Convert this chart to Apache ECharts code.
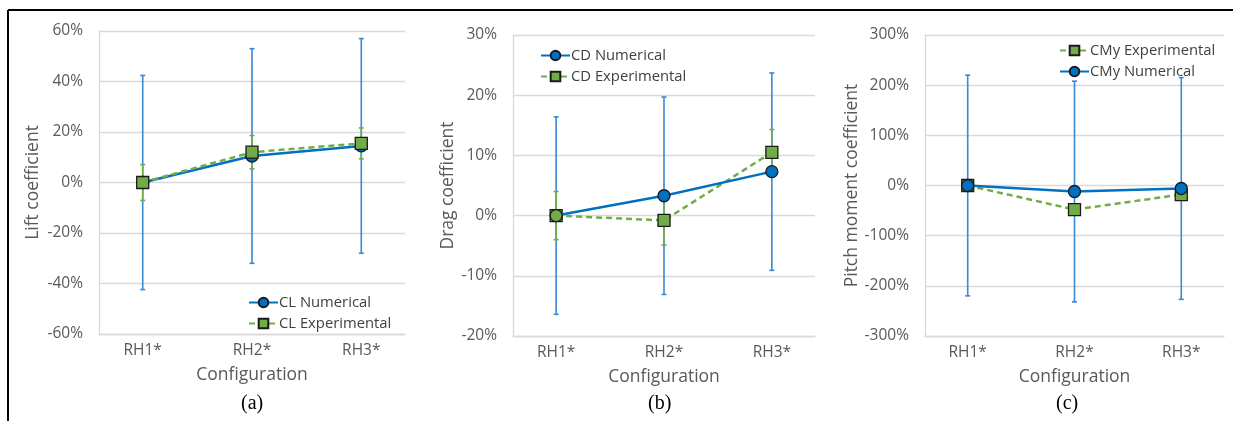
<!DOCTYPE html>
<html>
<head>
<meta charset="utf-8">
<script src="https://cdn.jsdelivr.net/npm/echarts@6/dist/echarts.min.js"></script>
<style>
html,body{margin:0;padding:0;background:#fff;}
#c{width:1233px;height:421px;}
</style>
</head>
<body>
<div id="c"></div>
<script>
// ---- data (values in percent) ----
const categories = ['RH1*', 'RH2*', 'RH3*'];

const clNumerical = [0, 10.5, 14.5];
const clNumericalErr = [42.4, 42.5, 42.5];
const clExperimental = [0, 12.0, 15.5];
const clExperimentalErr = [7.1, 6.6, 6.1];

const cdNumerical = [0, 3.3, 7.3];
const cdNumericalErr = [16.4, 16.4, 16.4];
const cdExperimental = [0, -0.8, 10.5];
const cdExperimentalErr = [4.0, 4.1, 3.8];

const cmyNumerical = [0, -12, -6];
const cmyNumericalErr = [220, 220, 221];
const cmyExperimental = [0, -48, -18];

const yRangeA = [-60, 60, 20];
const yRangeB = [-20, 30, 10];
const yRangeC = [-300, 300, 100];

// ---- styles ----
const BLUE = '#0070C0', BLUE_ERR = '#3B88D4', GREEN = '#70AD47';
const GRID_C = '#D9D9D9', TXT = '#595959';
const FONT = 'Open Sans';

function errSeries(idx, vals, errs, color, z) {
  return {
    type: 'custom', xAxisIndex: idx, yAxisIndex: idx, z: z, silent: true,
    data: vals.map((v, i) => [i, v - errs[i], v + errs[i]]),
    encode: { x: 0, y: [1, 2] },
    renderItem: function (params, api) {
      const x = api.value(0);
      const lo = api.coord([x, api.value(1)]);
      const hi = api.coord([x, api.value(2)]);
      const cw = 2.5, st = { stroke: color, lineWidth: 1.6 };
      return { type: 'group', children: [
        { type: 'line', shape: { x1: lo[0], y1: lo[1], x2: hi[0], y2: hi[1] }, style: st },
        { type: 'line', shape: { x1: lo[0] - cw, y1: lo[1], x2: lo[0] + cw, y2: lo[1] }, style: st },
        { type: 'line', shape: { x1: hi[0] - cw, y1: hi[1], x2: hi[0] + cw, y2: hi[1] }, style: st }
      ]};
    }
  };
}
function numSeries(idx, name, vals, z, firstColor) {
  return {
    type: 'line', name: name, xAxisIndex: idx, yAxisIndex: idx, z: z,
    data: vals.map((v, i) => (i === 0 && firstColor) ? { value: [i, v], itemStyle: { color: firstColor } } : [i, v]),
    symbol: 'circle', symbolSize: 12, showAllSymbol: true,
    lineStyle: { color: BLUE, width: 2.5 },
    itemStyle: { color: BLUE, borderColor: '#1a1a1a', borderWidth: 1.3 },
    emphasis: { disabled: true }
  };
}
function expSeries(idx, name, vals, z) {
  return {
    type: 'line', name: name, xAxisIndex: idx, yAxisIndex: idx, z: z,
    data: vals.map((v, i) => [i, v]),
    symbol: 'rect', symbolSize: 12, showAllSymbol: true,
    lineStyle: { color: GREEN, width: 2.5, type: [6, 4] },
    itemStyle: { color: GREEN, borderColor: '#1a1a1a', borderWidth: 1.3 },
    emphasis: { disabled: true }
  };
}
function xAxis(idx) {
  return {
    type: 'value', gridIndex: idx, min: -0.4, max: 2.4,
    name: 'Configuration', nameLocation: 'middle', nameGap: 32,
    nameTextStyle: { color: TXT, fontFamily: FONT, fontSize: 17.5 },
    axisLine: { show: true, onZero: false, lineStyle: { color: GRID_C, width: 1.3 } },
    axisTick: { show: false },
    splitLine: { show: false },
    axisLabel: {
      customValues: [0, 1, 2], margin: 9,
      color: TXT, fontFamily: FONT, fontSize: 15.5,
      formatter: v => categories[Math.round(v)]
    }
  };
}
function yAxis(idx, r, name, gap) {
  return {
    type: 'value', gridIndex: idx, min: r[0], max: r[1], interval: r[2],
    name: name, nameLocation: 'middle', nameGap: gap,
    nameTextStyle: { color: TXT, fontFamily: FONT, fontSize: 17.5 },
    axisLine: { show: true, onZero: false, lineStyle: { color: GRID_C, width: 1.3 } },
    axisTick: { show: false },
    splitLine: { show: true, lineStyle: { color: GRID_C, width: 1.3 } },
    axisLabel: { color: TXT, fontFamily: FONT, fontSize: 15.5, margin: 16, formatter: v => v + '%' }
  };
}
function legend(left, top, names) {
  return {
    left: left, top: top, orient: 'vertical', data: names,
    itemWidth: 29, itemHeight: 12, itemGap: 6, selectedMode: false,
    textStyle: { color: '#404040', fontFamily: FONT, fontSize: 14.8, padding: [0, 0, 0, -4] }
  };
}

const chart = echarts.init(document.getElementById('c'), null, { renderer: 'canvas' });
chart.setOption({
  animation: false,
  backgroundColor: '#fff',
  grid: [
    { left: 99, right: 828, top: 31, bottom: 87 },
    { left: 513, right: 418, top: 35, bottom: 85 },
    { left: 925, right: 9, top: 35, bottom: 85 }
  ],
  xAxis: [xAxis(0), xAxis(1), xAxis(2)],
  yAxis: [
    yAxis(0, yRangeA, 'Lift coefficient', 57),
    yAxis(1, yRangeB, 'Drag coefficient', 56),
    yAxis(2, yRangeC, 'Pitch moment coefficient', 64)
  ],
  legend: [
    legend(243, 290, ['CL Numerical', 'CL Experimental']),
    legend(535, 43, ['CD Numerical', 'CD Experimental']),
    legend(1054, 38, ['CMy Experimental', 'CMy Numerical'])
  ],
  series: [
    errSeries(0, clNumerical, clNumericalErr, BLUE_ERR, 2),
    errSeries(0, clExperimental, clExperimentalErr, GREEN, 3),
    numSeries(0, 'CL Numerical', clNumerical, 4),
    expSeries(0, 'CL Experimental', clExperimental, 5),

    errSeries(1, cdNumerical, cdNumericalErr, BLUE_ERR, 2),
    errSeries(1, cdExperimental, cdExperimentalErr, GREEN, 3),
    expSeries(1, 'CD Experimental', cdExperimental, 4),
    numSeries(1, 'CD Numerical', cdNumerical, 5, GREEN),

    errSeries(2, cmyNumerical, cmyNumericalErr, BLUE_ERR, 2),
    expSeries(2, 'CMy Experimental', cmyExperimental, 4),
    numSeries(2, 'CMy Numerical', cmyNumerical, 5)
  ],
  graphic: [
    { type: 'line', silent: true, shape: { x1: 8, y1: 10, x2: 1233, y2: 10 }, style: { stroke: '#000', lineWidth: 2 } },
    { type: 'line', silent: true, shape: { x1: 8, y1: 10, x2: 8, y2: 421 }, style: { stroke: '#000', lineWidth: 2 } },
    { type: 'text', left: 241, top: 394, style: { text: '(a)', fill: '#000', font: '20px "Liberation Serif"' } },
    { type: 'text', left: 648, top: 394, style: { text: '(b)', fill: '#000', font: '20px "Liberation Serif"' } },
    { type: 'text', left: 1056, top: 394, style: { text: '(c)', fill: '#000', font: '20px "Liberation Serif"' } }
  ]
});
</script>
</body>
</html>
